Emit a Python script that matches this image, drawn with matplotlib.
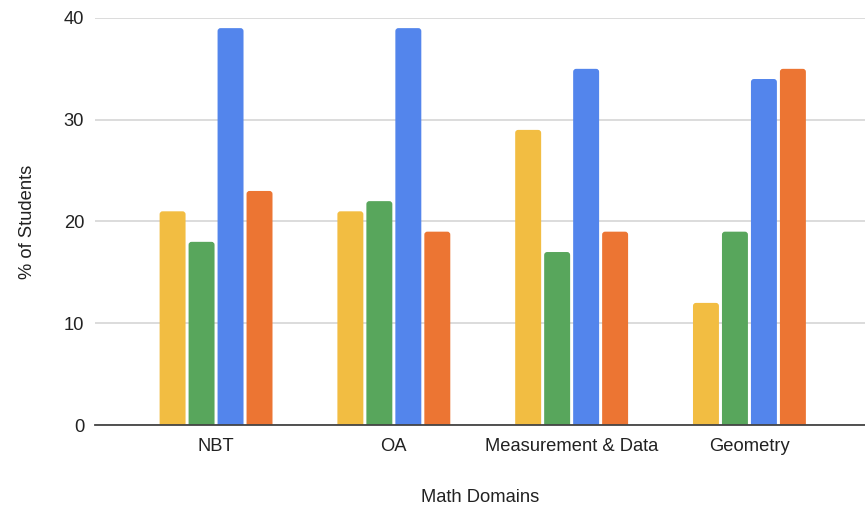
import numpy as np
import matplotlib
matplotlib.use("Agg")
import matplotlib.pyplot as plt
from matplotlib.patches import FancyBboxPatch

plt.rcParams['font.family'] = ['Liberation Sans', 'DejaVu Sans']

domains = ["NBT", "OA", "Measurement & Data", "Geometry"]
series_a = [21, 21, 29, 12]   # yellow
series_b = [18, 22, 17, 19]   # green
series_c = [39, 39, 35, 34]   # blue
series_d = [23, 19, 19, 35]   # orange
y_ticks = [0, 10, 20, 30, 40]

colors = ["#F2BD42", "#58A65C", "#5385EC", "#EC7533"]
all_series = [series_a, series_b, series_c, series_d]

fig = plt.figure(figsize=(8.65, 5.13), dpi=100)
ax = fig.add_axes([0.11, 0.1715, 0.89, 0.7935])

x = np.arange(len(domains))
step = 0.163
width = 0.146
xlim = (-0.68, 3.65)
ylim = (0, 40)
ax.set_xlim(*xlim)
ax.set_ylim(*ylim)

# keep corner rounding circular in pixels
bbox = ax.get_window_extent()
px_per_x = bbox.width / (xlim[1] - xlim[0])
px_per_y = bbox.height / (ylim[1] - ylim[0])
aspect = px_per_x / px_per_y
r = 3.0 / px_per_x

for i, (vals, col) in enumerate(zip(all_series, colors)):
    offs = (i - 1.5) * step
    for xi, v in zip(x, vals):
        p = FancyBboxPatch((xi + offs - width / 2, -2), width, v + 2,
                           boxstyle="round,pad=0,rounding_size=%f" % r,
                           mutation_aspect=aspect,
                           facecolor=col, edgecolor="none", zorder=3)
        ax.add_patch(p)

fs = 13.2
ax.set_yticks(y_ticks)
ax.set_xticks(x)
ax.set_xticklabels(domains, fontsize=fs, color="#222222")
ax.tick_params(axis="y", labelsize=fs, colors="#222222", length=0, pad=8)
ax.tick_params(axis="x", length=0, pad=9)
ax.grid(axis="y", color="#d6d6d6", linewidth=1.2, zorder=0)
ax.set_axisbelow(True)
for s in ["top", "right", "left"]:
    ax.spines[s].set_visible(False)
ax.spines["bottom"].set_color("#444444")
ax.spines["bottom"].set_linewidth(1.3)
ax.spines["bottom"].set_zorder(4)

ax.set_ylabel("% of Students", fontsize=fs, color="#222222", labelpad=20)
ax.set_xlabel("Math Domains", fontsize=fs, color="#222222", labelpad=25)

fig.savefig("out.png", dpi=100)
